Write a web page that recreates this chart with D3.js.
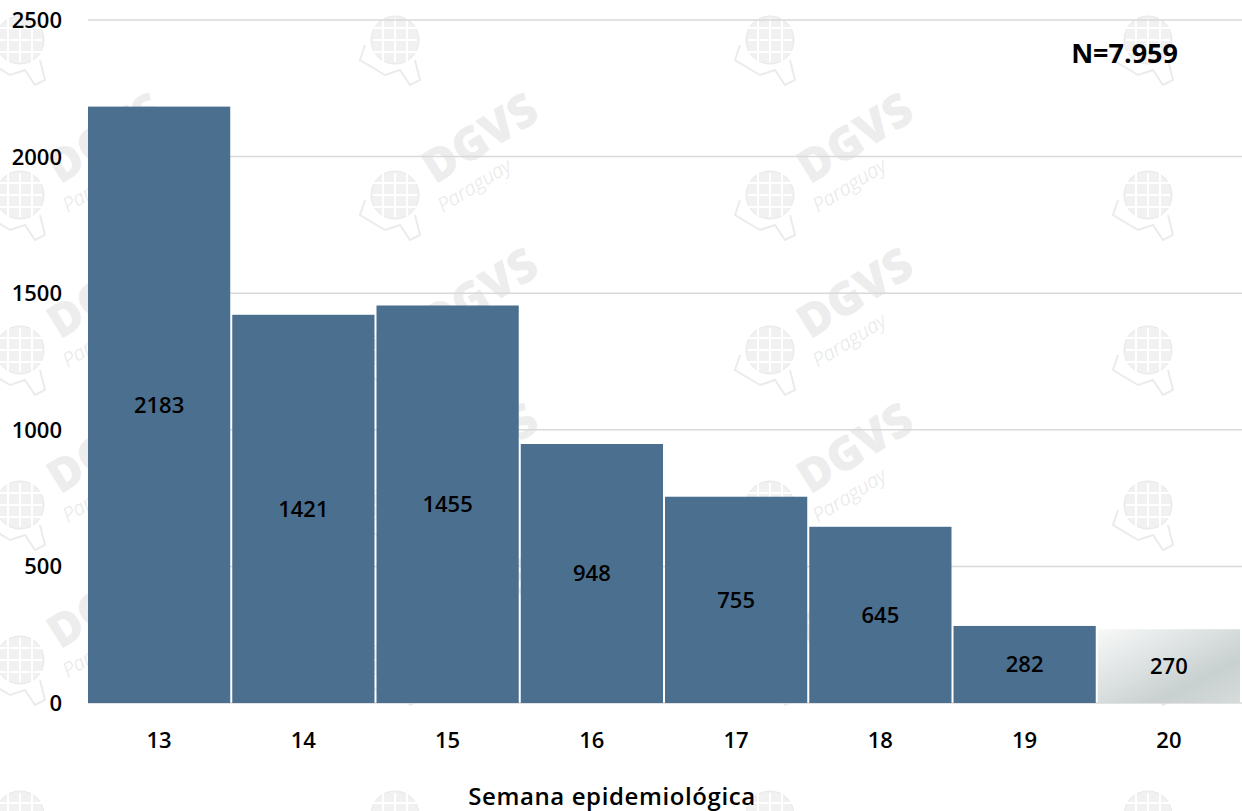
<!DOCTYPE html>
<html>
<head>
<meta charset="utf-8">
<script src="https://cdn.jsdelivr.net/npm/d3@7"></script>
<style>
  html, body { margin: 0; padding: 0; background: #fff; }
  svg { display: block; font-family: "Open Sans", "Noto Sans", sans-serif; }
</style>
</head>
<body>
<div id="content"></div>
<script>
// semanas epidemiologicas y casos
const semanas = ["13", "14", "15", "16", "17", "18", "19", "20"];
const casos = [2183, 1421, 1455, 948, 755, 645, 282, 270];
const yTicks = [0, 500, 1000, 1500, 2000, 2500];
const totalLabel = "N=7.959";
const xTitle = "Semana epidemiológica";

const W = 1242, H = 811;
const svg = d3.select("#content").append("svg")
    .attr("width", W)
    .attr("height", H);

const defs = svg.append("defs");
const grad = defs.append("linearGradient")
    .attr("id", "ultima")
    .attr("x1", "0").attr("y1", "0")
    .attr("x2", "1").attr("y2", "1");
grad.append("stop").attr("offset", "0%").attr("stop-color", "#f8f9f9");
grad.append("stop").attr("offset", "70%").attr("stop-color", "#c9d0d0");
grad.append("stop").attr("offset", "100%").attr("stop-color", "#d6dbdb");

const x = d3.scaleBand()
    .domain(semanas)
    .range([88, 1240])
    .paddingInner(0.014)
    .paddingOuter(0);

const y = d3.scaleLinear()
    .domain([0, 2500])
    .range([703, 20]);

// marca de agua (solo el texto que cabe entero)
const wm = svg.append("g").attr("class", "watermark");
const cols = [20, 395, 770, 1148];
const rows = [40, 195, 350, 505, 660, 815];
rows.forEach((ry, ri) => {
    cols.forEach((cx, ci) => {
        const g = wm.append("g").attr("transform", `translate(${cx},${ry})`);
        g.append("circle").attr("r", 24).attr("fill", "#f1f1f1").attr("stroke", "#e8e8e8");
        [-12, 0, 12].forEach(o => {
            g.append("line").attr("x1", o).attr("x2", o).attr("y1", -22).attr("y2", 22)
                .attr("stroke", "#fff").attr("stroke-width", 2);
            g.append("line").attr("y1", o).attr("y2", o).attr("x1", -22).attr("x2", 22)
                .attr("stroke", "#fff").attr("stroke-width", 2);
        });
        g.append("path")
            .attr("d", "M-30,5 L-35,20 L-10,35 L5,30 L15,45 L25,40 L20,20")
            .attr("fill", "none").attr("stroke", "#ebebeb").attr("stroke-width", 2);
        const fits = ri > 0 && ri < rows.length - 1 && ci < cols.length - 1;
        if (!fits) return;
        g.append("text")
            .attr("transform", "translate(40,-10) rotate(-32)")
            .attr("font-size", 46)
            .attr("font-weight", 800)
            .attr("fill", "#ededed")
            .text("DGVS");
        g.append("text")
            .attr("transform", "translate(48,18) rotate(-32)")
            .attr("font-size", 20)
            .attr("font-style", "italic")
            .attr("font-weight", 300)
            .attr("fill", "#e6e6e6")
            .text("Paraguay");
    });
});

// lineas de grilla
svg.append("g")
    .selectAll("line")
    .data(yTicks)
    .enter().append("line")
    .attr("x1", 88)
    .attr("x2", W)
    .attr("y1", d => y(d))
    .attr("y2", d => y(d))
    .attr("stroke", "#d9d9d9")
    .attr("stroke-width", 1.5);

// etiquetas eje y
svg.append("g")
    .selectAll("text")
    .data(yTicks)
    .enter().append("text")
    .attr("x", 62)
    .attr("y", d => y(d))
    .attr("dy", "0.36em")
    .attr("text-anchor", "end")
    .attr("font-size", 22)
    .attr("font-weight", 600)
    .attr("fill", "#000")
    .text(d => d);

// barras
const bars = svg.append("g")
    .selectAll("g")
    .data(semanas.map((s, i) => ({ s, v: casos[i], last: i === semanas.length - 1 })))
    .enter().append("g");

bars.append("rect")
    .attr("x", d => x(d.s))
    .attr("y", d => y(d.v))
    .attr("width", x.bandwidth())
    .attr("height", d => y(0) - y(d.v))
    .attr("fill", d => d.last ? "url(#ultima)" : "#4a6f8f");

bars.append("text")
    .attr("x", d => x(d.s) + x.bandwidth() / 2)
    .attr("y", d => (y(d.v) + y(0)) / 2)
    .attr("dy", "0.36em")
    .attr("text-anchor", "middle")
    .attr("font-size", 22)
    .attr("font-weight", 600)
    .attr("fill", "#000")
    .text(d => d.v);

// etiquetas eje x
svg.append("g")
    .selectAll("text")
    .data(semanas)
    .enter().append("text")
    .attr("x", d => x(d) + x.bandwidth() / 2)
    .attr("y", 740)
    .attr("dy", "0.36em")
    .attr("text-anchor", "middle")
    .attr("font-size", 22)
    .attr("font-weight", 600)
    .attr("fill", "#000")
    .text(d => d);

svg.append("text")
    .attr("x", 612)
    .attr("y", 796)
    .attr("dy", "0.36em")
    .attr("text-anchor", "middle")
    .attr("font-size", 24)
    .attr("font-weight", 600)
    .attr("letter-spacing", 0.6)
    .attr("fill", "#000")
    .text(xTitle);

svg.append("text")
    .attr("x", 1178)
    .attr("y", 53)
    .attr("dy", "0.36em")
    .attr("text-anchor", "end")
    .attr("font-size", 27)
    .attr("font-weight", 700)
    .attr("fill", "#000")
    .text(totalLabel);
</script>
</body>
</html>
